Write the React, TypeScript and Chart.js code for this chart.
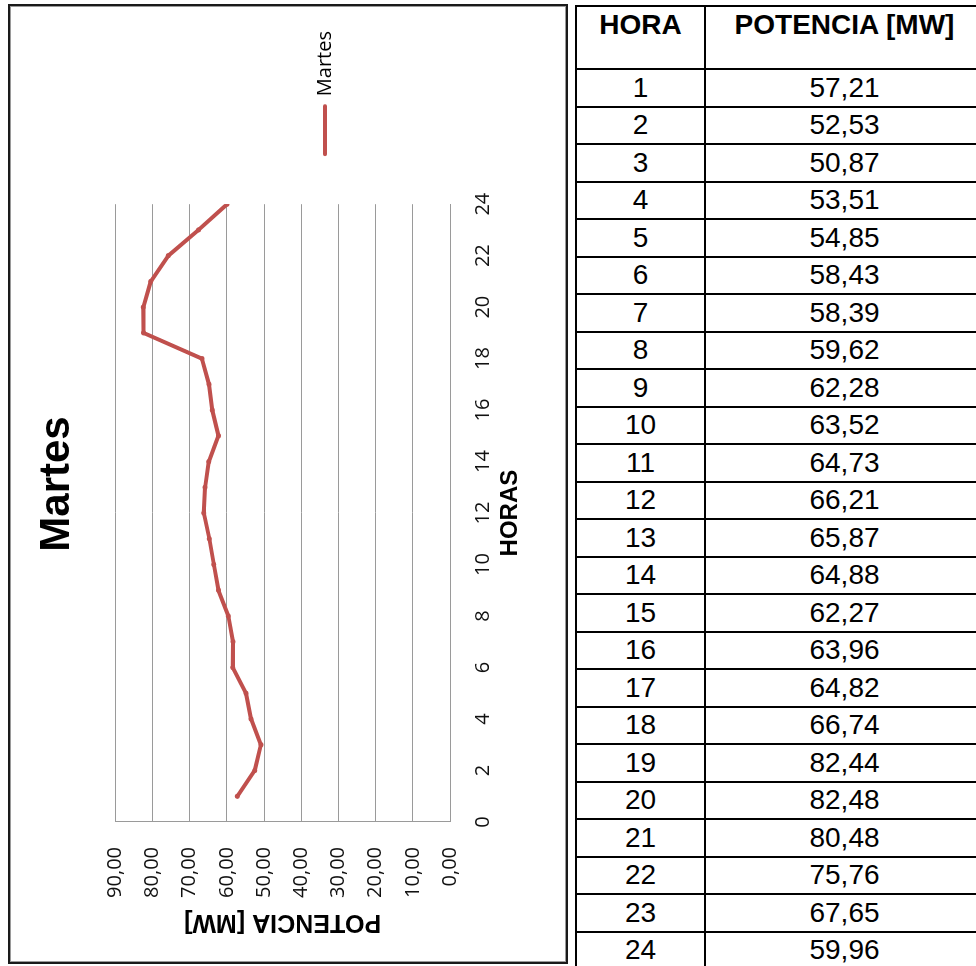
import React, { useEffect, useRef } from "react";
import { Chart, registerables } from "chart.js";

Chart.register(...registerables);

// ---- data ----
const HOURS = [1, 2, 3, 4, 5, 6, 7, 8, 9, 10, 11, 12, 13, 14, 15, 16, 17, 18, 19, 20, 21, 22, 23, 24];
const POWER = [
  57.21, 52.53, 50.87, 53.51, 54.85, 58.43, 58.39, 59.62, 62.28, 63.52, 64.73, 66.21,
  65.87, 64.88, 62.27, 63.96, 64.82, 66.74, 82.44, 82.48, 80.48, 75.76, 67.65, 59.96,
];
const SERIES_NAME = "Martes";
const CHART_TITLE = "Martes";
const X_TITLE = "HORAS";
const Y_TITLE = "POTENCIA [MW]";
const TABLE_HEADERS = ["HORA", "POTENCIA [MW]"];
const X_RANGE = [0, 24];
const X_STEP = 2;
const Y_RANGE = [0, 90];
const Y_STEP = 10;

const RED = "#C0504D";
const GRID = "#9a9a9a";
const TICK_FONT = { family: "'Open Sans', sans-serif", size: 20 };

const fmt = (v: number) => v.toFixed(2).replace(".", ",");

// unrotated chart size (the chart is drawn then turned 90° counter-clockwise)
const CW = 956;
const CH = 556;

export default function App() {
  const ref = useRef<HTMLCanvasElement>(null);

  useEffect(() => {
    if (!ref.current) return;
    const chart = new Chart(ref.current, {
      type: "line",
      data: {
        datasets: [
          {
            label: SERIES_NAME,
            data: HOURS.map((h, i) => ({ x: h, y: POWER[i] })),
            borderColor: RED,
            backgroundColor: RED,
            borderWidth: 4,
            borderJoinStyle: "round",
            borderCapStyle: "round",
            pointRadius: 2.5,
            pointBackgroundColor: RED,
            pointBorderColor: RED,
            pointBorderWidth: 0,
            tension: 0,
          },
        ],
      },
      options: {
        animation: false,
        responsive: false,
        devicePixelRatio: 1,
        layout: { padding: { left: 15, right: 15, top: 0, bottom: 0 } },
        plugins: {
          tooltip: { enabled: false },
          title: {
            display: true,
            text: CHART_TITLE,
            color: "#000",
            font: { family: "'Liberation Sans', Arial, sans-serif", size: 42, weight: "bold" },
            padding: { top: 22, bottom: 33 },
          },
          legend: {
            display: true,
            position: "right",
            align: "center",
            title: { display: true, text: " ", font: { size: 10 }, padding: { top: 62, bottom: 0 } },
            labels: {
              usePointStyle: true,
              pointStyle: "line",
              pointStyleWidth: 48,
              padding: 50,
              color: "#000",
              font: TICK_FONT,
              generateLabels: (c: any) => {
                const items = (Chart.defaults as any).plugins.legend.labels.generateLabels(c);
                items.forEach((it: any) => {
                  it.lineWidth = 4;
                  it.strokeStyle = RED;
                  it.fillStyle = RED;
                  it.pointStyle = "line";
                  it.lineCap = "round";
                });
                return items;
              },
            },
          },
        },
        scales: {
          x: {
            type: "linear",
            min: X_RANGE[0],
            max: X_RANGE[1],
            ticks: {
              stepSize: X_STEP,
              padding: 21,
              color: "#111",
              font: TICK_FONT,
              callback: (v: any) => String(v),
            },
            grid: { display: false, drawTicks: false },
            border: { display: true, color: GRID, width: 1 },
            title: {
              display: true,
              text: X_TITLE,
              color: "#000",
              font: { family: "'Liberation Sans', Arial, sans-serif", size: 24, weight: "bold" },
              padding: { top: 0, bottom: 41 },
            },
            afterFit: (s: any) => {
              s.height = 116;
            },
          },
          y: {
            type: "linear",
            min: Y_RANGE[0],
            max: Y_RANGE[1],
            ticks: {
              stepSize: Y_STEP,
              padding: 25,
              color: "#111",
              font: TICK_FONT,
              callback: (v: any) => fmt(Number(v)),
            },
            grid: { color: GRID, lineWidth: 1, drawTicks: false },
            border: { display: true, color: GRID, width: 1 },
            title: {
              display: true,
              text: Y_TITLE,
              color: "#000",
              font: { family: "'Liberation Sans', Arial, sans-serif", size: 25, weight: "bold" },
              padding: { top: 10, bottom: 0 },
            },
            afterFit: (s: any) => {
              s.width = 125;
            },
          },
        },
      },
    } as any);
    return () => chart.destroy();
  }, []);

  const cellBase: React.CSSProperties = {
    border: "2px solid #000",
    fontFamily: "'Liberation Sans', Arial, sans-serif",
    fontSize: 28,
    textAlign: "center",
    padding: 0,
    color: "#000",
  };

  return (
    <div
      style={{
        position: "fixed",
        left: 0,
        top: 0,
        width: 976,
        height: 966,
        overflow: "hidden",
        background: "#fff",
      }}
    >
      <div
        style={{
          position: "absolute",
          left: 8,
          top: 4,
          width: 556,
          height: 956,
          border: "2px solid #1a1a1a",
          boxShadow: "inset 0 0 0 1px #9a9a9a",
          background: "#fff",
          overflow: "hidden",
        }}
      >
        <div
          style={{
            position: "absolute",
            left: 0,
            top: 0,
            width: CW,
            height: CH,
            transformOrigin: "0 0",
            transform: `translateY(${CW}px) rotate(-90deg)`,
          }}
        >
          <canvas ref={ref} width={CW} height={CH} style={{ width: CW, height: CH, display: "block" }} />
        </div>
      </div>

      <table
        style={{
          position: "absolute",
          left: 575,
          top: 5,
          borderCollapse: "collapse",
          tableLayout: "fixed",
          width: 408,
        }}
      >
        <colgroup>
          <col style={{ width: 129 }} />
          <col style={{ width: 279 }} />
        </colgroup>
        <thead>
          <tr style={{ height: 63 }}>
            {TABLE_HEADERS.map((h) => (
              <th
                key={h}
                style={{
                  ...cellBase,
                  fontWeight: "bold",
                  verticalAlign: "top",
                  paddingTop: 2,
                  lineHeight: "32px",
                }}
              >
                {h}
              </th>
            ))}
          </tr>
        </thead>
        <tbody>
          {HOURS.map((h, i) => (
            <tr key={h} style={{ height: 37.5 }}>
              <td style={{ ...cellBase, lineHeight: "30px" }}>{h}</td>
              <td style={{ ...cellBase, lineHeight: "30px" }}>{fmt(POWER[i])}</td>
            </tr>
          ))}
        </tbody>
      </table>
    </div>
  );
}
